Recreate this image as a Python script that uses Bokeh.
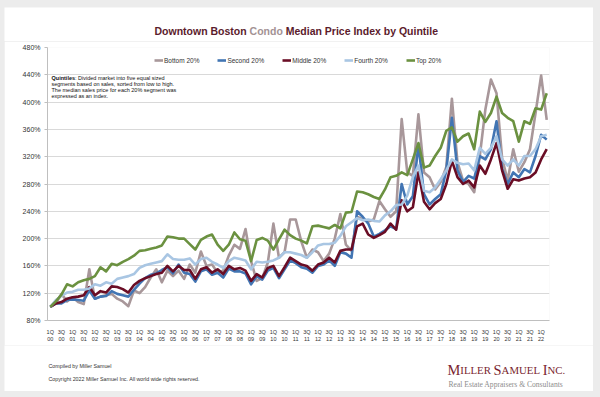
from bokeh.plotting import figure
from bokeh.layouts import column
from bokeh.models import (FixedTicker, LinearAxis, Legend, LegendItem, Label, Range1d, Grid)
from bokeh.core.properties import value
from bokeh.embed import file_html
from bokeh.resources import INLINE

# ---------------- data ----------------
years = [f"{y:02d}" for y in range(0, 23)]
quarter_names = ["1Q", "2Q", "3Q", "4Q"]
periods = [(q, y) for y in years for q in quarter_names][:90]   # 1Q 00 .. 2Q 22

bottom_20 = [100, 105, 119, 108, 114, 107, 104, 155, 112, 115, 117, 119, 112, 108, 101, 124,
             120, 129, 143, 155, 136, 153, 145, 153, 141, 162, 150, 181, 160, 162, 150, 153,
             175, 191, 185, 214, 167, 138, 142, 165, 222, 172, 180, 228, 228, 196, 172, 184,
             180, 167, 178, 200, 236, 191, 182, 232, 228, 225, 228, 255, 243, 232, 240, 375,
             297, 292, 382, 297, 290, 272, 283, 305, 405, 312, 285, 280, 268, 321, 389, 433,
             413, 318, 285, 331, 298, 312, 331, 384, 439, 374]
second_20 = [100, 105, 105, 110, 111, 110, 109, 124, 112, 115, 116, 123, 119, 117, 115, 125,
             134, 142, 147, 149, 154, 158, 149, 162, 150, 148, 137, 152, 155, 147, 150, 143,
             156, 152, 152, 149, 133, 145, 140, 153, 157, 142, 155, 168, 164, 158, 156, 150,
             160, 162, 168, 160, 180, 178, 172, 240, 232, 222, 203, 207, 212, 218, 214, 280,
             250, 262, 338, 265, 250, 258, 265, 300, 377, 300, 283, 292, 288, 321, 316, 331,
             372, 302, 280, 297, 290, 302, 297, 321, 352, 345]
middle_20 = [100, 105, 107, 112, 114, 115, 117, 129, 117, 123, 121, 130, 129, 126, 121, 132,
             138, 142, 145, 148, 150, 160, 152, 160, 154, 154, 141, 155, 158, 150, 155, 148,
             160, 155, 157, 153, 138, 148, 143, 157, 160, 145, 158, 172, 167, 162, 160, 153,
             162, 165, 172, 165, 182, 184, 184, 218, 222, 206, 201, 205, 210, 222, 213, 256,
             240, 246, 297, 254, 243, 252, 258, 280, 314, 290, 280, 285, 275, 307, 295, 316,
             340, 300, 273, 287, 285, 288, 290, 297, 316, 331]
fourth_20 = [100, 110, 116, 121, 122, 125, 125, 127, 133, 131, 136, 134, 141, 143, 145, 148,
             157, 161, 163, 165, 167, 177, 170, 169, 169, 171, 162, 170, 172, 166, 162, 157,
             167, 172, 170, 168, 155, 166, 165, 166, 168, 172, 180, 180, 178, 176, 172, 180,
             190, 192, 192, 194, 204, 218, 224, 230, 227, 228, 226, 225, 234, 240, 249, 250,
             263, 290, 307, 270, 268, 275, 287, 300, 316, 311, 309, 310, 300, 333, 324, 333,
             350, 316, 307, 316, 307, 321, 321, 331, 350, 352]
top_20 = [100, 108, 118, 133, 130, 136, 139, 141, 145, 158, 152, 163, 161, 166, 170, 175,
          182, 183, 185, 187, 190, 203, 202, 200, 200, 192, 184, 198, 203, 206, 191, 182,
          191, 209, 199, 197, 167, 198, 201, 197, 184, 199, 213, 205, 200, 197, 193, 218,
          219, 217, 215, 220, 215, 238, 239, 269, 268, 265, 261, 258, 272, 290, 292, 297,
          293, 316, 340, 304, 307, 321, 333, 358, 363, 342, 350, 354, 331, 386, 371, 384,
          408, 384, 377, 372, 342, 372, 368, 391, 389, 413]

series_names = ["Bottom 20%", "Second 20%", "Middle 20%", "Fourth 20%", "Top 20%"]
series_values = [bottom_20, second_20, middle_20, fourth_20, top_20]
series_colors = ["#a8979a", "#4275b3", "#6a0d25", "#a9c6e3", "#6b9140"]
y_ticks = [80, 120, 160, 200, 240, 280, 320, 360, 400, 440, 480]

SANS = "Liberation Sans"
SERIF = "Liberation Serif"

# card geometry in page pixels (gray page around a white card)
CL, CR, CT, CB = 4, 593, 7, 391
W = CR - CL

# ---------------- helper: pixel-space text panel ----------------
def text_panel(y_top, y_bot):
    f = figure(width=W, height=y_bot - y_top, output_backend="svg", toolbar_location=None,
               x_range=Range1d(CL, CR), y_range=Range1d(y_bot, y_top),
               x_axis_type=None, y_axis_type=None, frame_align=False,
               min_border_left=0, min_border_right=0, min_border_top=0, min_border_bottom=0)
    f.outline_line_color = None
    f.xgrid.visible = False
    f.ygrid.visible = False
    return f

def txt(f, x, y, t, size, color, font=SANS, style="normal", baseline="middle"):
    f.text(x=[x], y=[y], text=[t], text_font=value(font), text_font_size=f"{size}px",
           text_color=color, text_font_style=style, text_baseline=baseline, text_align="left")

# ---------------- top (title) ----------------
top = text_panel(CT, 41)
ts = 10.5
title_col = "#5b1b2c"
tx = 154
txt(top, tx, 30, "Downtown Boston", ts, title_col, style="bold")
tx += 9.055 * ts
txt(top, tx, 30, "Condo", ts, "#a39294", style="bold")
tx += (3.166 + 0.278) * ts
txt(top, tx, 30, "Median Price Index by Quintile", ts, title_col, style="bold")

# ---------------- main chart ----------------
Y0, Y1 = 41, 345
FL, FR, FT, FB = 47, 549, 47, 324
p = figure(width=W, height=Y1 - Y0, output_backend="svg", toolbar_location=None,
           x_range=Range1d(-0.5, 89.5), y_range=Range1d(80, 480),
           x_axis_type=None, y_axis_type=None, frame_align=False,
           min_border_left=FL - CL, min_border_right=CR - FR,
           min_border_top=FT - Y0, min_border_bottom=Y1 - FB)
p.outline_line_color = None

yt = FixedTicker(ticks=y_ticks)
p.add_layout(Grid(dimension=1, ticker=yt, grid_line_color="#d9d9d9", grid_line_width=1))

yaxis = LinearAxis(ticker=yt, major_label_overrides={v: f"{v}%" for v in y_ticks},
                   axis_line_color="#bfbfbf", major_tick_line_color="#bfbfbf",
                   major_tick_out=3, major_tick_in=0, minor_tick_line_color=None,
                   major_label_standoff=4, major_label_text_font=SANS,
                   major_label_text_font_size="7px", major_label_text_color="#333333")
p.add_layout(yaxis, "left")

xt = FixedTicker(ticks=list(range(0, 89, 2)))
xlab = {i: periods[i][0] + "\n" + periods[i][1] for i in range(0, 89, 2)}
xaxis = LinearAxis(ticker=xt, major_label_overrides=xlab, axis_line_color="#bfbfbf",
                   major_tick_line_color=None, minor_tick_line_color=None,
                   major_label_standoff=2, major_label_text_font=SANS,
                   major_label_text_font_size="5.5px", major_label_text_color="#333333",
                   major_label_text_line_height=1.25)
p.add_layout(xaxis, "below")

xs = list(range(len(periods)))
items = []
for name, vals, col in zip(series_names, series_values, series_colors):
    r = p.line(xs, vals, line_color=col, line_width=2.6, line_join="round")
    items.append(LegendItem(label=name, renderers=[r]))

legend = Legend(items=items, orientation="horizontal", location=(107, 256),
                glyph_width=9, glyph_height=8, label_height=8, label_standoff=1,
                spacing=18, padding=0, margin=0, border_line_color=None,
                background_fill_alpha=0, label_text_font=SANS,
                label_text_font_size="6.5px", label_text_color="#333333")
p.add_layout(legend)

def dx(px):
    return -0.5 + (px - FL) / (FR - FL) * 90.0
def dy(py):
    return 80 + (FB - py) / (FB - FT) * 400.0

def note(px, py, t, style="normal"):
    p.add_layout(Label(x=dx(px), y=dy(py), text=t, text_font=SANS, text_font_size="5.5px",
                       text_color="#111111", text_font_style=style, text_baseline="middle",
                       text_align="left"))

ns = 5.5
note(51, 78, "Quintiles", "bold")
note(51 + 4.279 * ns, 78, ": Divided market into five equal sized")
note(51, 84, "segments based on sales, sorted from low to high.")
note(51, 90, "The median sales price for each 20% segment was")
note(51, 96, "expressed as an index.")

# ---------------- bottom (footer + logo) ----------------
bot = text_panel(345, CB)
txt(bot, 48, 365, "Compiled by Miller Samuel", 5.3, "#333333")
txt(bot, 48, 378, "Copyright 2022 Miller Samuel Inc.  All world wide rights reserved.", 5.3, "#333333")

big, small = 14.4, 10.8
logo_col = "#7a1f30"
x0 = 447
pieces = [("M", big, 0.889), ("ILLER", small, 3.083), ("S", big, 0.556),
          ("AMUEL", small, 3.805), ("I", big, 0.333), ("NC.", small, 1.639)]
for t, s, w in pieces:
    txt(bot, x0, 369, t, s, logo_col, font=SERIF, baseline="alphabetic")
    x0 += w * s
txt(bot, 448, 384, "Real Estate Appraisers & Consultants", 7.6, "#8c8c8c", font=SERIF, baseline="alphabetic")

layout = column(top, p, bot, spacing=0,
                styles={"background-color": "#ececec",
                        "padding": f"{CT}px {600 - CR}px {397 - CB}px {CL}px"})
open("out.html", "w").write(file_html(layout, INLINE))
